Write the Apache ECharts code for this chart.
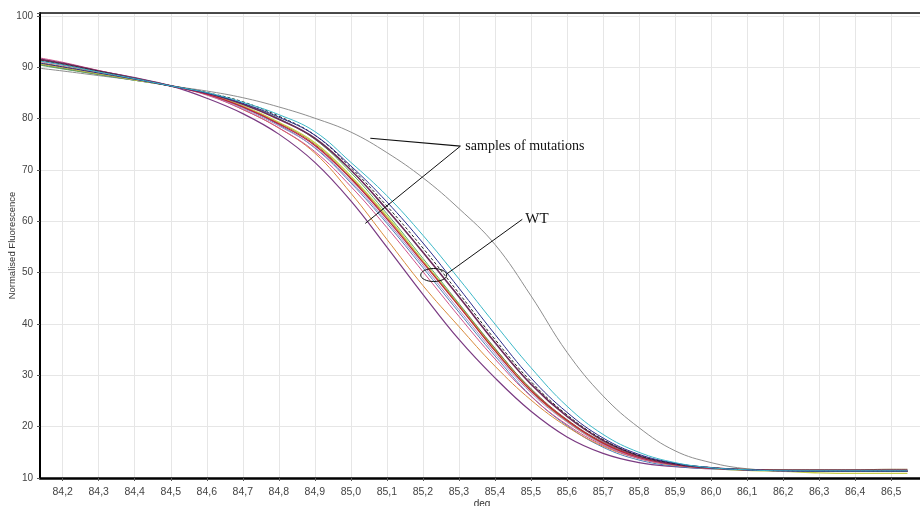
<!DOCTYPE html>
<html>
<head>
<meta charset="utf-8">
<script src="https://cdn.jsdelivr.net/npm/echarts@6/dist/echarts.min.js"></script>
<style>
html,body{margin:0;padding:0;background:#fff;}
#chart{width:920px;height:506px;}
</style>
</head>
<body>
<div id="chart"></div>
<script>
// Temperatures (deg) at which the curves are sampled
const temps = [84.14, 84.2, 84.3, 84.4, 84.5, 84.6, 84.7, 84.8, 84.9, 85.0, 85.1, 85.2, 85.3, 85.4, 85.5, 85.6, 85.7, 85.8, 85.9, 86.0, 86.1, 86.2, 86.3, 86.4, 86.5, 86.545];
// X tick labels
const xTicks = [84.2, 84.3, 84.4, 84.5, 84.6, 84.7, 84.8, 84.9, 85.0, 85.1, 85.2, 85.3, 85.4, 85.5, 85.6, 85.7, 85.8, 85.9, 86.0, 86.1, 86.2, 86.3, 86.4, 86.5];
const xName = 'deg';
const yName = 'Normalised Fluorescence';

// Mutation samples
const mutGray   = [89.8, 89.3, 88.4, 87.5, 86.4, 85.4, 84.1, 82.3, 80.1, 77.4, 73.4, 68.5, 62.5, 55.5, 45.5, 34.5, 26.0, 19.8, 15.3, 13.0, 11.8, 11.5, 11.4, 11.4, 11.4, 11.4];
const mutPurple = [91.5, 90.7, 89.3, 88.0, 86.4, 84.0, 81.0, 77.0, 71.5, 64.0, 55.0, 45.8, 37.0, 29.5, 23.0, 18.0, 14.8, 13.0, 12.2, 11.8, 11.6, 11.5, 11.5, 11.5, 11.5, 11.5];

// WT / other samples (bundle)
const sCyan     = [91.2, 90.5, 89.1, 87.8, 86.4, 85.1, 83.2, 80.8, 77.5, 71.5, 65.0, 57.3, 48.8, 40.0, 31.5, 24.0, 18.5, 15.0, 13.0, 12.0, 11.6, 11.4, 11.4, 11.4, 11.4, 11.4];
const sNavy     = [90.8, 90.1, 88.9, 87.7, 86.4, 85.0, 83.0, 80.3, 76.8, 70.8, 63.8, 55.8, 47.0, 38.0, 29.5, 22.8, 17.8, 14.6, 12.9, 12.0, 11.6, 11.4, 11.3, 11.3, 11.3, 11.3];
const sBlack    = [91.3, 90.6, 89.2, 87.8, 86.4, 85.1, 83.3, 80.5, 76.8, 70.5, 63.0, 54.8, 46.0, 37.0, 28.8, 22.3, 17.5, 14.4, 12.8, 12.0, 11.6, 11.4, 11.3, 11.3, 11.3, 11.3];
const sMaroon   = [91.6, 90.8, 89.3, 87.9, 86.4, 85.0, 82.8, 79.9, 76.2, 70.0, 62.3, 54.0, 45.3, 36.4, 28.3, 22.0, 17.3, 14.3, 12.7, 12.0, 11.6, 11.5, 11.5, 11.5, 11.5, 11.5];
const sRed      = [91.4, 90.6, 89.2, 87.8, 86.4, 84.8, 82.3, 79.0, 74.8, 68.3, 60.5, 52.0, 43.5, 34.8, 27.0, 21.2, 16.8, 14.0, 12.6, 11.9, 11.6, 11.4, 11.3, 11.3, 11.3, 11.3];
const sOrange   = [90.9, 90.2, 89.0, 87.7, 86.4, 84.7, 81.8, 78.2, 73.3, 65.5, 56.5, 47.5, 39.5, 31.8, 25.2, 20.0, 16.2, 13.8, 12.5, 11.9, 11.6, 11.4, 11.3, 11.3, 11.3, 11.3];
const sOlive    = [90.7, 90.0, 88.8, 87.6, 86.4, 84.9, 82.5, 79.3, 75.3, 68.8, 61.0, 52.3, 43.6, 34.9, 27.0, 21.0, 16.6, 13.9, 12.5, 11.9, 11.5, 11.3, 11.0, 10.9, 10.9, 10.9];
const sGreen    = [90.4, 89.7, 88.6, 87.5, 86.4, 85.0, 82.9, 80.0, 76.0, 69.5, 61.5, 52.8, 44.0, 35.3, 27.3, 21.2, 16.8, 14.0, 12.6, 11.9, 11.6, 11.4, 11.3, 11.3, 11.3, 11.3];
const sPink     = [91.8, 91.0, 89.4, 87.9, 86.4, 84.6, 81.8, 78.2, 73.6, 66.8, 58.8, 50.2, 41.5, 33.2, 25.9, 20.4, 16.4, 13.8, 12.5, 11.9, 11.6, 11.4, 11.3, 11.3, 11.3, 11.3];
const sBrown    = [90.6, 89.9, 88.7, 87.6, 86.4, 84.8, 82.4, 79.2, 75.0, 68.5, 60.8, 52.3, 43.8, 35.2, 27.4, 21.4, 17.0, 14.2, 12.8, 12.0, 11.7, 11.6, 11.6, 11.6, 11.7, 11.7];
const sLavender = [91.1, 90.4, 89.1, 87.7, 86.4, 84.7, 82.0, 78.6, 74.4, 67.8, 60.0, 51.5, 42.8, 34.3, 26.6, 20.9, 16.6, 13.9, 12.6, 11.9, 11.6, 11.4, 11.3, 11.3, 11.3, 11.3];
const sSteel    = [90.5, 89.8, 88.6, 87.5, 86.4, 84.8, 82.2, 78.8, 74.3, 67.5, 59.6, 51.0, 42.3, 33.8, 26.0, 20.2, 16.0, 13.5, 12.3, 11.8, 11.5, 11.4, 11.3, 11.3, 11.3, 11.3];

const seriesDefs = [
  { name: 'mut1', data: mutGray,   color: '#8e8e8e', width: 1 },
  { name: 'mut2', data: mutPurple, color: '#7a3a82', width: 1.2 },
  { name: 's1',  data: sSteel,    color: '#4f7fb8', width: 1 },
  { name: 's2',  data: sGreen,    color: '#5aab5a', width: 1 },
  { name: 's3',  data: sBrown,    color: '#8a6a3a', width: 1 },
  { name: 's4',  data: sOlive,    color: '#c8cc4a', width: 1.4 },
  { name: 's5',  data: sOrange,   color: '#d98a3a', width: 1 },
  { name: 's6',  data: sPink,     color: '#d0508a', width: 1 },
  { name: 's7',  data: sLavender, color: '#a58cc8', width: 1 },
  { name: 's8',  data: sRed,      color: '#c0203a', width: 1.2 },
  { name: 's9',  data: sMaroon,   color: '#6a2a5a', width: 1.6 },
  { name: 's10', data: sBlack,    color: '#222222', width: 1, type: [3, 2] },
  { name: 's11', data: sNavy,     color: '#2a2a8a', width: 1 },
  { name: 's12', data: sCyan,     color: '#3cb8c8', width: 1 }
];

const chart = echarts.init(document.getElementById('chart'), null, { renderer: 'canvas' });

const option = {
  animation: false,
  backgroundColor: '#ffffff',
  grid: { left: 40, right: 0, top: 13, bottom: 28, containLabel: false, outerBoundsMode: 'none' },
  xAxis: {
    type: 'value',
    min: 84.137,
    max: 86.58,
    axisLine: { show: true, onZero: false, lineStyle: { color: '#000', width: 2.5 } },
    axisTick: { show: true, length: 3, lineStyle: { color: '#555' }, customValues: xTicks },
    axisLabel: {
      customValues: xTicks,
      fontFamily: 'Liberation Sans, Arial', fontSize: 10.5, color: '#444', margin: 9,
      formatter: function (v) { return v.toFixed(1).replace('.', ','); }
    },
    splitLine: { show: true, lineStyle: { color: '#e6e6e6', width: 1 } }
  },
  yAxis: {
    type: 'value',
    min: 10,
    max: 100.6,
    interval: 10,
    axisLine: { show: true, onZero: false, lineStyle: { color: '#000', width: 2 } },
    axisTick: { show: true, length: 3, lineStyle: { color: '#555' } },
    axisLabel: {
      fontFamily: 'Liberation Sans, Arial', fontSize: 10, color: '#444', margin: 7,
      showMaxLabel: true,
      formatter: function (v) { return Math.abs(v - Math.round(v)) < 1e-6 && Math.round(v) % 10 === 0 ? String(Math.round(v)) : ''; }
    },
    splitLine: { show: true, lineStyle: { color: '#e6e6e6', width: 1 } }
  },
  series: seriesDefs.map(function (s) {
    return {
      name: s.name,
      type: 'line',
      data: temps.map(function (t, i) { return [t, s.data[i]]; }),
      smooth: 0.4,
      showSymbol: false,
      symbol: 'none',
      lineStyle: { color: s.color, width: s.width, type: s.type || 'solid' },
      z: 3
    };
  })
};
chart.setOption(option);

// Annotations, positioned in data coordinates
function px(t, v) { return chart.convertToPixel({ gridIndex: 0 }, [t, v]); }
const aText = px(85.304, 74.65);
const aEnd1 = px(85.054, 76.2);
const aEnd2 = px(85.04, 59.6);
const wtStart = px(85.476, 60.4);
const wtEnd = px(85.267, 49.8);
const ell = px(85.23, 49.55);
const topLeft = px(84.137, 100.6);
const topRight = px(86.58, 100.6);
const bottomLeft = px(84.137, 10);
const gridMidY = (topLeft[1] + bottomLeft[1]) / 2;
const gridMidX = (topLeft[0] + topRight[0]) / 2;

chart.setOption({
  graphic: [
    { type: 'line', shape: { x1: topLeft[0], y1: topLeft[1], x2: topRight[0], y2: topRight[1] }, style: { stroke: '#111', lineWidth: 1.5 }, z: 10 },
    { type: 'text', x: 12, y: gridMidY, rotation: Math.PI / 2, style: { text: yName, font: '9.5px "Liberation Sans", Arial, sans-serif', fill: '#333', align: 'center', verticalAlign: 'middle' }, z: 10 },
    { type: 'text', x: gridMidX + 2, y: bottomLeft[1] + 21, style: { text: xName, font: '10px "Liberation Sans", Arial, sans-serif', fill: '#333', align: 'center', verticalAlign: 'top' }, z: 10 },
    { type: 'line', shape: { x1: aText[0], y1: aText[1], x2: aEnd1[0], y2: aEnd1[1] }, style: { stroke: '#111', lineWidth: 1.2 }, z: 10 },
    { type: 'line', shape: { x1: aText[0], y1: aText[1], x2: aEnd2[0], y2: aEnd2[1] }, style: { stroke: '#111', lineWidth: 1 }, z: 10 },
    { type: 'text', x: aText[0] + 5, y: aText[1], style: { text: 'samples of mutations', font: '14px "Liberation Serif", "Times New Roman", serif', fill: '#111', verticalAlign: 'middle' }, z: 10 },
    { type: 'line', shape: { x1: wtStart[0], y1: wtStart[1], x2: wtEnd[0], y2: wtEnd[1] }, style: { stroke: '#111', lineWidth: 1 }, z: 10 },
    { type: 'ellipse', shape: { cx: ell[0], cy: ell[1], rx: 13, ry: 6.5 }, style: { stroke: '#111', fill: null, lineWidth: 1 }, z: 10 },
    { type: 'text', x: wtStart[0] + 3, y: wtStart[1], style: { text: 'WT', font: '15px "Liberation Serif", "Times New Roman", serif', fill: '#111', verticalAlign: 'middle' }, z: 10 }
  ]
});
</script>
</body>
</html>
